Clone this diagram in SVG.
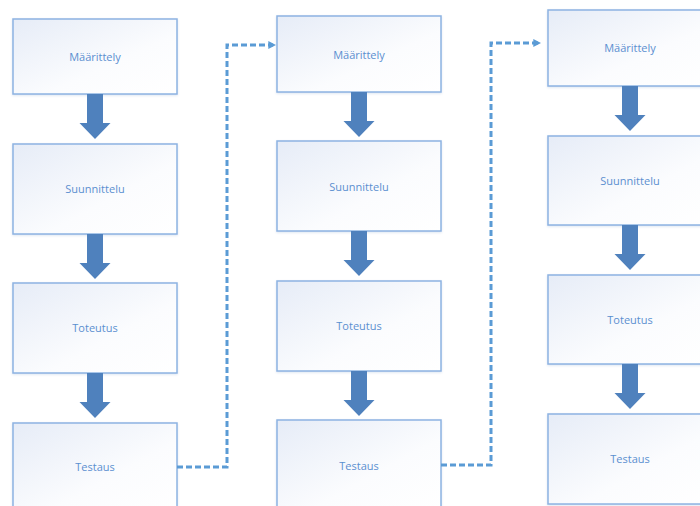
<svg xmlns="http://www.w3.org/2000/svg" width="700" height="506" viewBox="0 0 700 506">
  <defs>
    <linearGradient id="boxFill" x1="0" y1="0" x2="1" y2="1">
      <stop offset="0" stop-color="#e6ecf7"/>
      <stop offset="0.6" stop-color="#fbfcfe"/>
      <stop offset="1" stop-color="#ffffff"/>
    </linearGradient>
    <filter id="soft" x="-10%" y="-10%" width="120%" height="130%">
      <feDropShadow dx="0" dy="1" stdDeviation="1" flood-color="#9fb6d6" flood-opacity="0.35"/>
    </filter>
    <marker id="tip" viewBox="0 0 10 10" refX="6" refY="5" markerWidth="2.6" markerHeight="2.6" orient="auto">
      <path d="M0,0 L10,5 L0,10 z" fill="#5b9bd5"/>
    </marker>
    <path id="blockArrow" d="M-8,0 H8 V29 H15.5 L0,45 L-15.5,29 H-8 Z"/>
  </defs>
  <style>
    .box rect { fill: url(#boxFill); stroke: #8db3e2; stroke-width: 1.5; filter: url(#soft); }
    .box text { font-family: "Open Sans", "Liberation Sans", sans-serif; font-size: 11px; fill: #5b8fd0; text-anchor: middle; dominant-baseline: central; }
    .step { fill: #4f81bd; }
    .loop { fill: none; stroke: #5b9bd5; stroke-width: 3; stroke-dasharray: 6 3; }
  </style>

  <rect width="700" height="506" fill="#ffffff"/>

  <!-- column 1 -->
  <g id="c1-maarittely" class="box"><rect x="13" y="19" width="164" height="75"/><text x="95" y="56">Määrittely</text></g>
  <g id="c1-suunnittelu" class="box"><rect x="13" y="144" width="164" height="90"/><text x="95" y="188">Suunnittelu</text></g>
  <g id="c1-toteutus" class="box"><rect x="13" y="283" width="164" height="90"/><text x="95" y="327">Toteutus</text></g>
  <g id="c1-testaus" class="box"><rect x="13" y="423" width="164" height="90"/><text x="95" y="466">Testaus</text></g>

  <!-- column 2 -->
  <g id="c2-maarittely" class="box"><rect x="277" y="16" width="164" height="76"/><text x="359" y="54">Määrittely</text></g>
  <g id="c2-suunnittelu" class="box"><rect x="277" y="141" width="164" height="90"/><text x="359" y="186">Suunnittelu</text></g>
  <g id="c2-toteutus" class="box"><rect x="277" y="281" width="164" height="90"/><text x="359" y="325">Toteutus</text></g>
  <g id="c2-testaus" class="box"><rect x="277" y="420" width="164" height="90"/><text x="359" y="465">Testaus</text></g>

  <!-- column 3 -->
  <g id="c3-maarittely" class="box"><rect x="548" y="10" width="164" height="76"/><text x="630" y="47">Määrittely</text></g>
  <g id="c3-suunnittelu" class="box"><rect x="548" y="136" width="164" height="89"/><text x="630" y="180">Suunnittelu</text></g>
  <g id="c3-toteutus" class="box"><rect x="548" y="275" width="164" height="89"/><text x="630" y="319">Toteutus</text></g>
  <g id="c3-testaus" class="box"><rect x="548" y="414" width="164" height="90"/><text x="630" y="458">Testaus</text></g>

  <g id="connectors">
    <!-- block arrows between steps -->
    <use href="#blockArrow" class="step" transform="translate(95,94)"/>
    <use href="#blockArrow" class="step" transform="translate(95,234)"/>
    <use href="#blockArrow" class="step" transform="translate(95,373)"/>
    <use href="#blockArrow" class="step" transform="translate(359,92)"/>
    <use href="#blockArrow" class="step" transform="translate(359,231)"/>
    <use href="#blockArrow" class="step" transform="translate(359,371)"/>
    <use href="#blockArrow" class="step" transform="translate(630,86)"/>
    <use href="#blockArrow" class="step" transform="translate(630,225)"/>
    <use href="#blockArrow" class="step" transform="translate(630,364)"/>
    <!-- iteration loops -->
    <path class="loop" d="M177,467 H227 V45 H273" marker-end="url(#tip)"/>
    <path class="loop" d="M441,465 H491 V43 H538" marker-end="url(#tip)"/>
  </g>
</svg>
